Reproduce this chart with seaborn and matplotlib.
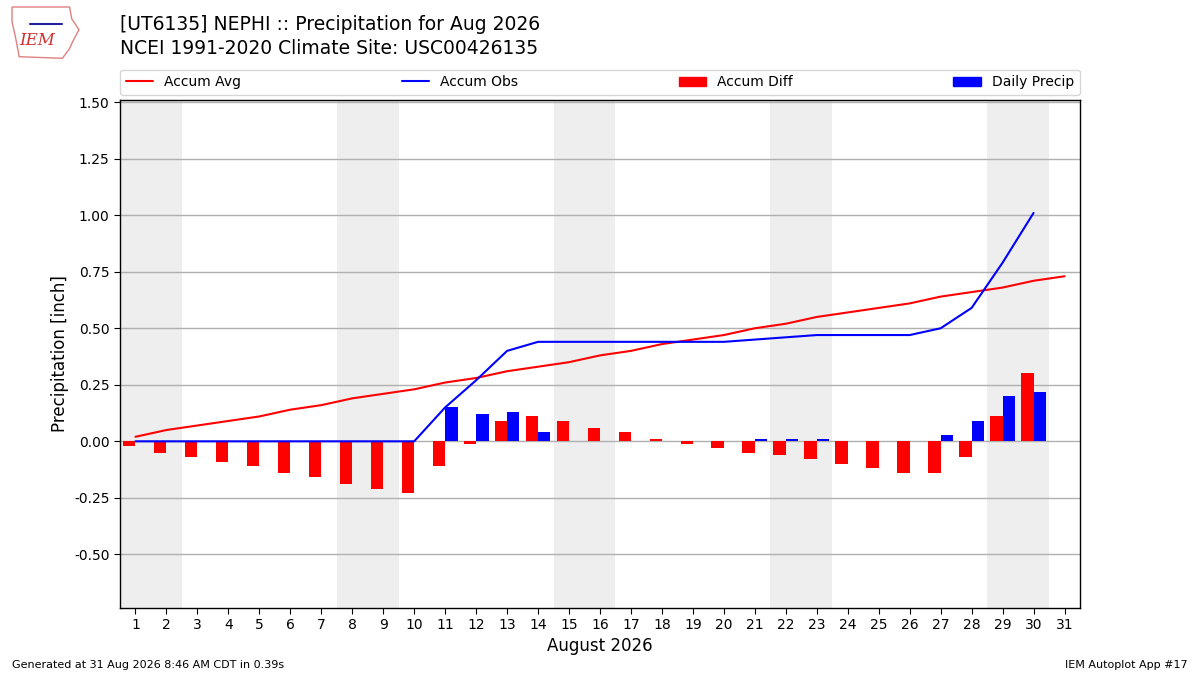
import numpy as np
import pandas as pd
import matplotlib
matplotlib.use("Agg")
import matplotlib.pyplot as plt
from matplotlib.lines import Line2D
from matplotlib.patches import Patch, Polygon
import seaborn as sns

# values (inches)
days = list(range(1, 32))
accum_avg = [0.02, 0.05, 0.07, 0.09, 0.11, 0.14, 0.16, 0.19, 0.21, 0.23,
             0.26, 0.28, 0.31, 0.33, 0.35, 0.38, 0.40, 0.43, 0.45, 0.47,
             0.50, 0.52, 0.55, 0.57, 0.59, 0.61, 0.64, 0.66, 0.68, 0.71, 0.73]
obs_days = list(range(1, 31))
accum_obs = [0.0, 0.0, 0.0, 0.0, 0.0, 0.0, 0.0, 0.0, 0.0, 0.0,
             0.15, 0.27, 0.40, 0.44, 0.44, 0.44, 0.44, 0.44, 0.44, 0.44,
             0.45, 0.46, 0.47, 0.47, 0.47, 0.47, 0.50, 0.59, 0.79, 1.01]
daily_precip = [0.0, 0.0, 0.0, 0.0, 0.0, 0.0, 0.0, 0.0, 0.0, 0.0,
                0.15, 0.12, 0.13, 0.04, 0.0, 0.0, 0.0, 0.0, 0.0, 0.0,
                0.01, 0.01, 0.01, 0.0, 0.0, 0.0, 0.03, 0.09, 0.20, 0.22]
accum_diff = [-0.02, -0.05, -0.07, -0.09, -0.11, -0.14, -0.16, -0.19, -0.21, -0.23,
              -0.11, -0.01, 0.09, 0.11, 0.09, 0.06, 0.04, 0.01, -0.01, -0.03,
              -0.05, -0.06, -0.08, -0.10, -0.12, -0.14, -0.14, -0.07, 0.11, 0.30]
weekends = [(1, 2), (8, 9), (15, 16), (22, 23), (29, 30)]

sns.set_style("ticks", rc={"text.color": "black", "axes.labelcolor": "black",
                           "xtick.color": "black", "ytick.color": "black",
                           "axes.edgecolor": "black"})
plt.rcParams["font.family"] = ["DejaVu Sans"]

fig = plt.figure(figsize=(12, 6.75), dpi=100)
ax = fig.add_axes([0.1, 0.1, 0.8, 0.752])

for start, end in weekends:
    ax.axvspan(start - 0.5, end + 0.5, color="#eeeeee", zorder=0, lw=0)

bars = pd.DataFrame({
    "day": obs_days * 2,
    "value": accum_diff + daily_precip,
    "series": ["Accum Diff"] * len(obs_days) + ["Daily Precip"] * len(obs_days),
})
sns.barplot(data=bars, x="day", y="value", hue="series", native_scale=True,
            dodge=True, width=0.8, palette={"Accum Diff": "red", "Daily Precip": "blue"},
            saturation=1, errorbar=None, linewidth=0, legend=False, ax=ax, zorder=3)

sns.lineplot(x=days, y=accum_avg, color="red", lw=1.5, ax=ax, zorder=4)
sns.lineplot(x=obs_days, y=accum_obs, color="blue", lw=1.5, ax=ax, zorder=4)

ax.set_xlim(0.5, 31.5)
ax.set_xticks(days)
ax.set_xticklabels([str(d) for d in days])
ax.set_ylim(-0.735, 1.51)
yt = np.arange(-0.5, 1.51, 0.25)
ax.set_yticks(yt)
ax.set_yticklabels([f"{v:.2f}" for v in yt])
ax.yaxis.grid(True, color="#b0b0b0", lw=1, zorder=1)
ax.xaxis.grid(False)
ax.set_axisbelow(True)
for sp in ax.spines.values():
    sp.set_visible(True)
    sp.set_color("black")
    sp.set_linewidth(1)
ax.tick_params(axis="both", labelsize=10, length=4, color="black", labelcolor="black")
ax.set_xlabel("August 2026", fontsize=12)
ax.set_ylabel("Precipitation [inch]", fontsize=12)

handles = [Line2D([], [], color="red", lw=1.5), Line2D([], [], color="blue", lw=1.5),
           Patch(color="red"), Patch(color="blue")]
labels = ["Accum Avg", "Accum Obs", "Accum Diff", "Daily Precip"]
ax.legend(handles, labels, loc="lower left", bbox_to_anchor=(0, 1.01, 1, 0.05),
          ncol=4, mode="expand", borderaxespad=0, fontsize=10, frameon=True)

fig.text(0.1, 1 - 24 / 675, "[UT6135] NEPHI :: Precipitation for Aug 2026",
         fontsize=13.5, va="center", ha="left")
fig.text(0.1, 1 - 48 / 675, "NCEI 1991-2020 Climate Site: USC00426135",
         fontsize=13.5, va="center", ha="left")
fig.text(0.01, 0.01, "Generated at 31 Aug 2026 8:46 AM CDT in 0.39s", fontsize=8)
fig.text(0.99, 0.01, "IEM Autoplot App #17", fontsize=8, ha="right")

# small stand-in for the IEM logo
logo = fig.add_axes([0.007, 0.912, 0.06, 0.08])
logo.set_xlim(0, 1)
logo.set_ylim(0, 1)
logo.axis("off")
outline = [(0.05, 0.97), (0.85, 0.97), (0.88, 0.75), (0.98, 0.55), (0.9, 0.35),
           (0.85, 0.2), (0.75, 0.02), (0.15, 0.05), (0.1, 0.4), (0.05, 0.7)]
logo.add_patch(Polygon(outline, closed=True, fill=False, ec="#e08080", lw=1))
logo.text(0.4, 0.2, "IEM", color="#d03030", fontsize=12, fontstyle="italic",
          family="DejaVu Serif", ha="center", va="bottom")
logo.plot([0.3, 0.75], [0.65, 0.65], color="#2020a0", lw=1.5)

fig.savefig("out.png", dpi=100)
